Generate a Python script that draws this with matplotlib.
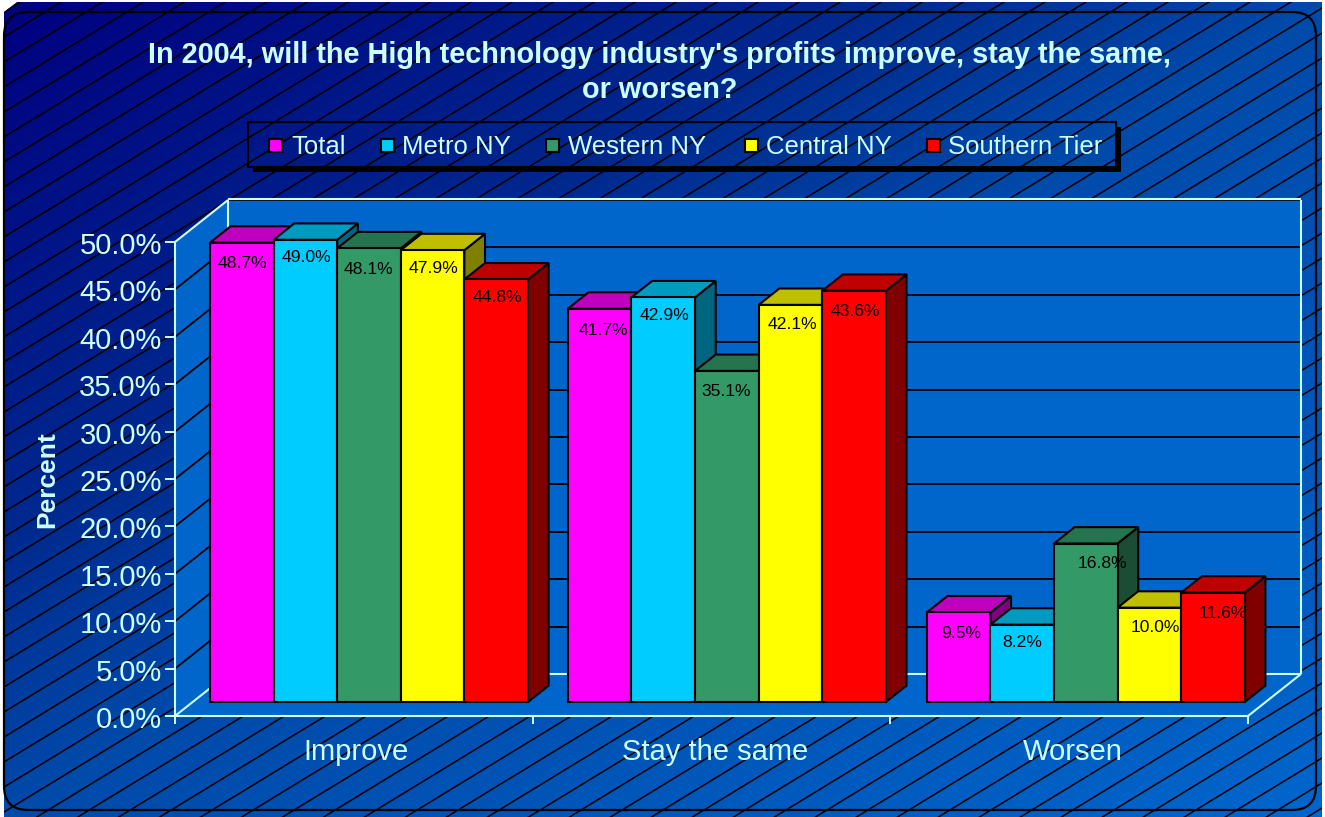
import numpy as np
import matplotlib
matplotlib.use("Agg")
import matplotlib.pyplot as plt
from matplotlib.patches import Polygon, Rectangle, FancyBboxPatch
from matplotlib.transforms import Affine2D

plt.rcParams['font.family'] = ['Liberation Sans', 'DejaVu Sans']

# ---- data ----
categories = ["Improve", "Stay the same", "Worsen"]
series_names = ["Total", "Metro NY", "Western NY", "Central NY", "Southern Tier"]
total = [48.7, 41.7, 9.5]
metro = [49.0, 42.9, 8.2]
western = [48.1, 35.1, 16.8]
central = [47.9, 42.1, 10.0]
southern = [44.8, 43.6, 11.6]
y_ticks = [0, 5, 10, 15, 20, 25, 30, 35, 40, 45, 50]
title_lines = ["In 2004, will the High technology industry's profits improve, stay the same,", "or worsen?"]
y_title = "Percent"

# ---- style ----
W, H = 1325, 817
TXT = '#CCFFFF'
WALL = '#0066CC'
front_cols = ['#FF00FF', '#00CCFF', '#339966', '#FFFF00', '#FF0000']
top_cols = ['#BF00BF', '#0099BF', '#267350', '#BFBF00', '#BF0000']
side_cols = ['#800080', '#006680', '#1A4D33', '#808000', '#800000']
# label offsets from top-centre of each bar's front face, in pixels (series x category)
lab_dx = [[1, 4, 3], [1, 1, 0], [-1, -1, 17], [1, 2, 6], [1, 1, 10]]
lab_dy = [[-21, -22, -21], [-18, -18, -18], [-21, -21, -20], [-18, -20, -20], [-18, -21, -21]]

fig = plt.figure(figsize=(W / 100, H / 100), dpi=100, facecolor='white')

# ---- background layer in pixel coordinates ----
bg = fig.add_axes([0, 0, 1, 1], zorder=0)
g_stops = [0, .33, .5, 1]
g_r = [0, 0, 0, 0]
g_g = [0, 41, 74, 102]
g_b = [128, 142, 170, 204]
xx, yy = np.meshgrid(np.linspace(0, 1, 300), np.linspace(0, 1, 300))
t = (xx + yy) / 2
img = np.dstack([np.interp(t, g_stops, c) / 255 for c in (g_r, g_g, g_b)])
im = bg.imshow(img, extent=(0, W, H, 0), aspect='auto', interpolation='bilinear', zorder=0)
clip = Polygon([(4, 12), (17, 2), (1322, 2), (1322, 817), (4, 817)], transform=bg.transData, fc='none', ec='none')
bg.add_patch(clip)
im.set_clip_path(clip)
SL = 0.61
for k in range(-1, 90):
    y0 = 37 + 25 * k
    ln, = bg.plot([4, 1322], [y0, y0 - SL * 1318], color='black', lw=1.1, zorder=1)
    ln.set_clip_path(clip)
bg.add_patch(FancyBboxPatch((4 + 24, 12 + 24), 1312 - 48, 798 - 48, boxstyle='round,pad=24,rounding_size=24',
                            fc='none', ec='black', lw=1.6, zorder=2))
# legend
bg.add_patch(Polygon([(1116, 127), (1121, 127), (1121, 172), (253, 172), (253, 167), (1116, 167)], fc='black', ec='none', zorder=3))
bg.add_patch(Rectangle((248, 122), 868, 45, fc='none', ec='black', lw=1.5, zorder=3))
leg_mark_x = [269, 381, 546, 745, 927]
leg_text_x = [291, 402, 568, 766, 948]
for name, c, mx, tx in zip(series_names, front_cols, leg_mark_x, leg_text_x):
    bg.add_patch(Rectangle((mx, 139), 13, 13, fc=c, ec='black', lw=1.5, zorder=4))
    bg.text(tx, 146.5, name, color=TXT, fontsize=18.5, va='center', ha='left', zorder=4)
bg.text(660, 54.5, title_lines[0], color=TXT, fontsize=20.8, fontweight='bold', ha='center', va='center', zorder=4)
bg.text(660, 89.5, title_lines[1], color=TXT, fontsize=20.8, fontweight='bold', ha='center', va='center', zorder=4)
bg.text(47, 480, y_title, color=TXT, fontsize=19, fontweight='bold', rotation=90, ha='center', va='center', zorder=4)
bg.set_xlim(0, W)
bg.set_ylim(H, 0)
bg.axis('off')

# ---- chart axes: front plane of the 3-D box ----
x0, x1, y_bot, y_top = 175, 1248, 716, 242
ax = fig.add_axes([x0 / W, 1 - y_bot / H, (x1 - x0) / W, (y_bot - y_top) / H], zorder=1)
ax.patch.set_alpha(0)
ax.set_xlim(0, 3)
ax.set_ylim(0, 50)
ax.set_autoscale_on(False)

DX = 53 / ((x1 - x0) / 3)   # full depth in x data units
DY = 42 / ((y_bot - y_top) / 50)  # full depth in y data units


def proj(x, v, d):
    return x + DX * d, v + DY * d


def poly(pts, **kw):
    xy = [proj(*p) for p in pts]
    ax.add_patch(Polygon(xy, clip_on=False, joinstyle='miter', **kw))


def line(p, q, **kw):
    a, b = proj(*p), proj(*q)
    ax.plot([a[0], b[0]], [a[1], b[1]], clip_on=False, solid_capstyle='butt', **kw)


# walls and floor
poly([(0, 0, 0), (0, 50, 0), (0, 50, 1), (0, 0, 1)], fc=WALL, ec='none', zorder=1)
poly([(0, 0, 1), (0, 50, 1), (3, 50, 1), (3, 0, 1)], fc=WALL, ec='none', zorder=1)
poly([(0, 0, 0), (0, 0, 1), (3, 0, 1), (3, 0, 0)], fc=WALL, ec='none', zorder=1)
for v in y_ticks[1:]:
    line((0, v, 1), (3, v, 1), color='black', lw=1.3, zorder=2)
    if v < 50:
        line((0, v, 0), (0, v, 1), color='black', lw=1.3, zorder=2)
LW = 1.5
line((0, 50.15, 1), (3, 50.15, 1), color=TXT, lw=LW, zorder=3)
line((0, 0, 1), (0, 50, 1), color=TXT, lw=LW, zorder=3)
line((3, 0, 1), (3, 50, 1), color=TXT, lw=LW, zorder=3)
line((0, 0, 1), (3, 0, 1), color=TXT, lw=LW, zorder=3)
line((0, 0, 0), (0, 0, 1), color=TXT, lw=LW, zorder=3)
line((0, 50, 0), (0, 50, 1), color=TXT, lw=LW, zorder=3)
line((3, 0, 0), (3, 0, 1), color=TXT, lw=LW, zorder=3)

# bars
all_series = [total, metro, western, central, southern]
d_front, d_back = 1 / 3, 1 / 3 + 0.39
bar_w = 0.889 / 5
margins = [0.0484, 0.049, 0.0525]
FRONT_SCALE = 0.995  # the box's front plane is drawn slightly shorter than the axis plane
z = 10
for c_i in range(len(categories)):
    for s_i, vals in enumerate(all_series):
        v = vals[c_i] * FRONT_SCALE
        xl = c_i + margins[c_i] + s_i * bar_w
        xr = xl + bar_w
        poly([(xr, 0, d_front), (xr, v, d_front), (xr, v, d_back), (xr, 0, d_back)],
             fc=side_cols[s_i], ec='black', lw=1.5, zorder=z)
        poly([(xl, v, d_front), (xl, v, d_back), (xr, v, d_back), (xr, v, d_front)],
             fc=top_cols[s_i], ec='black', lw=1.5, zorder=z + 1)
        px, py = proj(xl, 0, d_front)
        ax.bar(px, v, width=bar_w, bottom=py, align='edge', color=front_cols[s_i], edgecolor='black',
               linewidth=1.5, clip_on=False, zorder=z + 2)
        tx, ty = proj((xl + xr) / 2, v, d_front)
        ax.annotate(f"{vals[c_i]:.1f}%", (tx, ty), xytext=(lab_dx[s_i][c_i], lab_dy[s_i][c_i]),
                    textcoords='offset pixels', ha='center', va='center', fontsize=12.6,
                    color='#000000', zorder=z + 3, annotation_clip=False)
        z += 4

# axes furniture
for s in ['top', 'right']:
    ax.spines[s].set_visible(False)
for s in ['left', 'bottom']:
    ax.spines[s].set_color(TXT)
    ax.spines[s].set_linewidth(LW)
    ax.spines[s].set_zorder(9)
ax.set_yticks(y_ticks)
ax.set_yticklabels([f"{v:.1f}%" for v in y_ticks], fontsize=21, color=TXT)
ax.tick_params(axis='y', length=7, width=1.4, color=TXT, pad=2.5)
ax.set_xticks([0, 1, 2, 3])
ax.set_xticklabels([])
ax.tick_params(axis='x', which='major', length=6, width=1.4, color=TXT)
ax.set_xticks([0.505, 1.51, 2.51], minor=True)
ax.set_xticklabels(categories, minor=True, fontsize=21, color=TXT)
ax.tick_params(axis='x', which='minor', length=0, pad=16)
for lab in ax.get_yticklabels():
    lab.set_transform(lab.get_transform() + Affine2D().translate(0, -1))

fig.savefig('out.png', dpi=100, facecolor='white')
